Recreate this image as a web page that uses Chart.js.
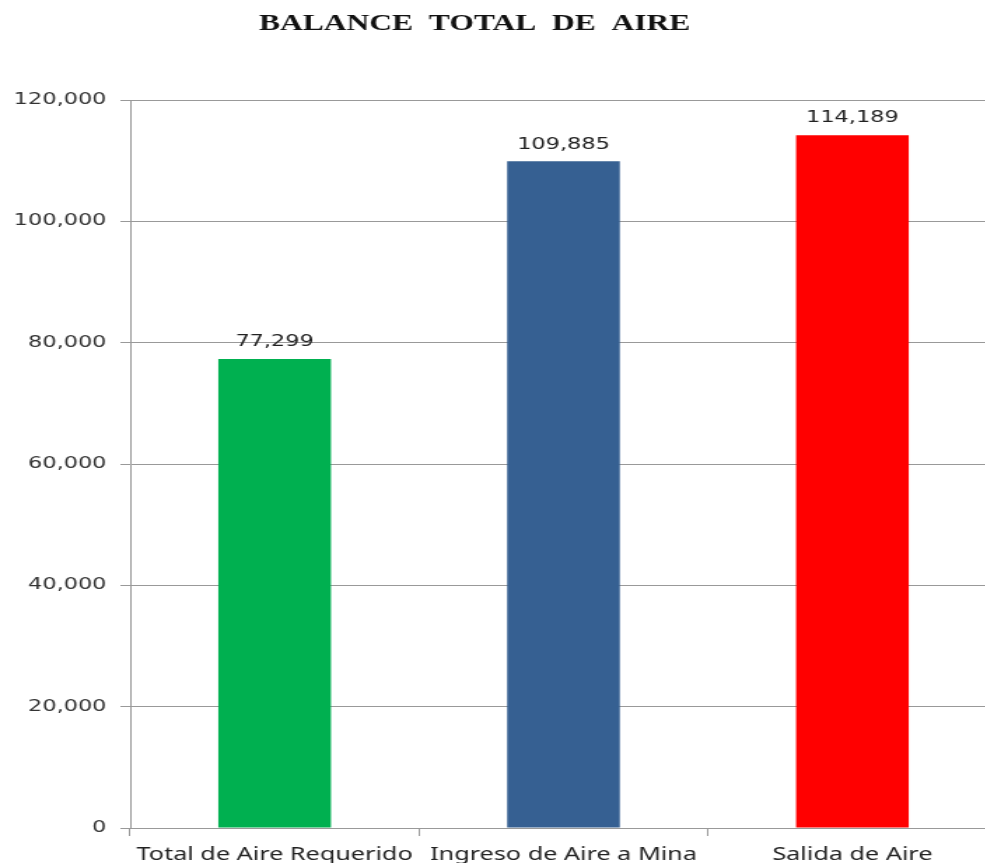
<!DOCTYPE html>
<html>
<head>
<meta charset="utf-8">
<script src="https://cdn.jsdelivr.net/npm/chart.js@4"></script>
<style>
  html, body { margin: 0; padding: 0; background: #fff; overflow: hidden; width: 985px; height: 863px; }
  /* the reference is a horizontally stretched picture, so the chart is drawn narrow and stretched;
     the plot runs past the right edge of the picture, so the canvas is a little wider than the page */
  #chart { display: block; width: 1008px !important; height: 863px !important; }
</style>
</head>
<body>
<canvas id="chart" width="720" height="863"></canvas>
<script>
var categories = ["Total de Aire Requerido", "Ingreso de Aire a Mina", "Salida de Aire"];
var airValues = [77299, 109885, 114189];
var barColors = ["#00B050", "#366092", "#FF0000"];
var yTicks = [0, 20000, 40000, 60000, 80000, 100000, 120000];

function fmt(v) {
  return v.toString().replace(/\B(?=(\d{3})+(?!\d))/g, ",");
}

// Title drawn by hand so it sits where the reference has it
var titlePlugin = {
  id: "titleText",
  afterDraw: function (chart) {
    var ctx = chart.ctx;
    ctx.save();
    ctx.font = "bold 22.5px 'Liberation Serif'";
    ctx.fillStyle = "#111";
    ctx.textAlign = "center";
    ctx.textBaseline = "middle";
    ctx.fillText("BALANCE  TOTAL  DE  AIRE", 339, 24);
    ctx.restore();
  }
};

// value labels above bars
var valueLabels = {
  id: "valueLabels",
  afterDatasetsDraw: function (chart) {
    var ctx = chart.ctx;
    var meta = chart.getDatasetMeta(0);
    ctx.save();
    ctx.font = "16px 'DejaVu Sans'";
    ctx.fillStyle = "#222";
    ctx.textAlign = "center";
    ctx.textBaseline = "bottom";
    meta.data.forEach(function (bar, i) {
      ctx.fillText(fmt(airValues[i]), bar.x, bar.y - 9);
    });
    ctx.restore();
  }
};

new Chart(document.getElementById("chart").getContext("2d"), {
  type: "bar",
  data: {
    labels: categories,
    datasets: [{
      data: airValues,
      backgroundColor: barColors,
      barPercentage: 0.39,
      categoryPercentage: 1.0
    }]
  },
  options: {
    responsive: false,
    animation: false,
    devicePixelRatio: 1,
    layout: { padding: { top: 100, right: 8, left: 0, bottom: 0 } },
    plugins: {
      legend: { display: false },
      title: { display: false },
      tooltip: { enabled: false }
    },
    scales: {
      x: {
        offset: true,
        afterFit: function (scale) { scale.height = 35; },
        grid: {
          offset: true,
          drawOnChartArea: false,
          color: "#999",
          tickLength: 8
        },
        border: { color: "#999" },
        ticks: {
          color: "#222",
          padding: 8,
          font: { family: "'Noto Sans'", size: 18 }
        }
      },
      y: {
        min: 0,
        max: 120000,
        afterFit: function (scale) { scale.width = 93; },
        afterBuildTicks: function (scale) {
          scale.ticks = yTicks.map(function (v) { return { value: v }; });
        },
        grid: { color: "#999", tickLength: 7 },
        border: { color: "#999" },
        ticks: {
          color: "#333",
          padding: 10,
          font: { family: "'DejaVu Sans'", size: 16 },
          callback: function (v) { return fmt(v); }
        }
      }
    }
  },
  plugins: [titlePlugin, valueLabels]
});
</script>
</body>
</html>
